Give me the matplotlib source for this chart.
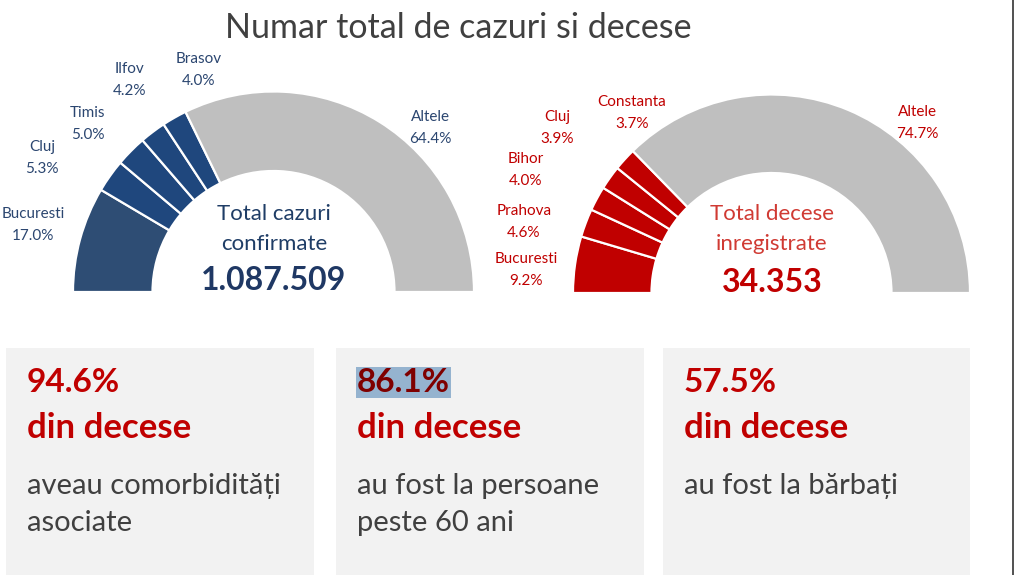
import matplotlib
matplotlib.use("Agg")
import matplotlib.pyplot as plt
from matplotlib.patches import Rectangle

plt.rcParams['font.family'] = ['Lato', 'DejaVu Sans']

W, H = 1014, 575

# ---- data ----
title = "Numar total de cazuri si decese"
cases_labels = ["Bucuresti", "Cluj", "Timis", "Ilfov", "Brasov", "Altele"]
cases_values = [17.0, 5.3, 5.0, 4.2, 4.0, 64.4]
cases_total = "1.087.509"
deaths_labels = ["Bucuresti", "Prahova", "Bihor", "Cluj", "Constanta", "Altele"]
deaths_values = [9.2, 4.6, 4.0, 3.9, 3.7, 74.7]
deaths_total = "34.353"
box_pcts = ["94.6%", "86.1%", "57.5%"]
box_sub = ["din decese", "din decese", "din decese"]
box_text = [["aveau comorbidități", "asociate"],
            ["au fost la persoane", "peste 60 ani"],
            ["au fost la bărbați"]]

# ---- styles ----
blue_dark = "#2E4D74"
blue = "#1F477D"
grey = "#BFBFBF"
red = "#C00000"
blue_txt = "#2B4670"
red_txt = "#C00000"
dark_txt = "#404040"

fig = plt.figure(figsize=(W / 100, H / 100), dpi=100)
ax = fig.add_axes([0, 0, 1, 1])

def Y(py):
    return H - py

def half_donut(values, colors, cx, cy, R, r):
    vals = list(values) + [sum(values)]
    cols = list(colors) + ["none"]
    wedges, _ = ax.pie(vals, colors=cols, startangle=180, counterclock=False,
                       radius=R, center=(cx, Y(cy)), normalize=True,
                       wedgeprops=dict(width=R - r, edgecolor="white", linewidth=1.6))
    wedges[-1].set_visible(False)
    return wedges

# left donut
half_donut(cases_values, [blue_dark, blue, blue, blue, blue, grey], 273.5, 292, 200.5, 121)
# right donut
half_donut(deaths_values, [red, red, red, red, red, grey], 771.5, 293, 198.5, 120)

ax.set_xlim(0, W)
ax.set_ylim(0, H)
ax.set_aspect('auto')
ax.axis('off')

# title
ax.text(458, Y(28), title, ha='center', va='center', fontsize=24.5, color=dark_txt)

# left labels
left_pos = [(33, 225), (42, 158), (88, 124), (130, 80), (199, 70), (430, 128)]
for lab, v, (x, y) in zip(cases_labels, cases_values, left_pos):
    ax.text(x, Y(y), f"{lab}\n{v:.1f}%", ha='center', va='center', fontsize=11,
            color=blue_txt, linespacing=1.8)

# right labels
right_pos = [(526, 270), (524, 222), (526, 170), (557, 128), (632, 113), (917, 123)]
for lab, v, (x, y) in zip(deaths_labels, deaths_values, right_pos):
    ax.text(x, Y(y), f"{lab}\n{v:.1f}%", ha='center', va='center', fontsize=11,
            color=red_txt, linespacing=1.8)

# center texts
ax.text(274, Y(229), "Total cazuri\nconfirmate", ha='center', va='center', fontsize=16,
        color="#1F3D66", linespacing=1.6)
ax.text(274, Y(281), cases_total, ha='center', va='center', fontsize=23,
        fontweight='bold', color="#1F3864")
ax.text(772, Y(229), "Total decese\ninregistrate", ha='center', va='center', fontsize=16,
        color="#D03A33", linespacing=1.6)
ax.text(772, Y(283), deaths_total, ha='center', va='center', fontsize=23,
        fontweight='bold', color=red)

# boxes
box_x = [(6, 314), (336, 644), (663, 970)]
for i, (x0, x1) in enumerate(box_x):
    ax.add_patch(Rectangle((x0, 0), x1 - x0, Y(348), facecolor="#F2F2F2", edgecolor="none"))
    tx = x0 + 21
    if i == 1:
        ax.text(tx, Y(382), box_pcts[i], ha='left', va='center', fontsize=24,
                fontweight='bold', color="#7F0000",
                bbox=dict(boxstyle='square,pad=0.03', facecolor="#95B3CF", edgecolor='none'))
    else:
        ax.text(tx, Y(382), box_pcts[i], ha='left', va='center', fontsize=24,
                fontweight='bold', color=red)
    ax.text(tx, Y(428), box_sub[i], ha='left', va='center', fontsize=25,
            fontweight='bold', color=red)
    for j, line in enumerate(box_text[i]):
        ax.text(tx, Y(486 + 37 * j), line, ha='left', va='center', fontsize=21,
                color=dark_txt)

# right border line
ax.plot([1012.5, 1012.5], [0, H], color="#333333", linewidth=1.2)

fig.savefig("out.png", dpi=100)
